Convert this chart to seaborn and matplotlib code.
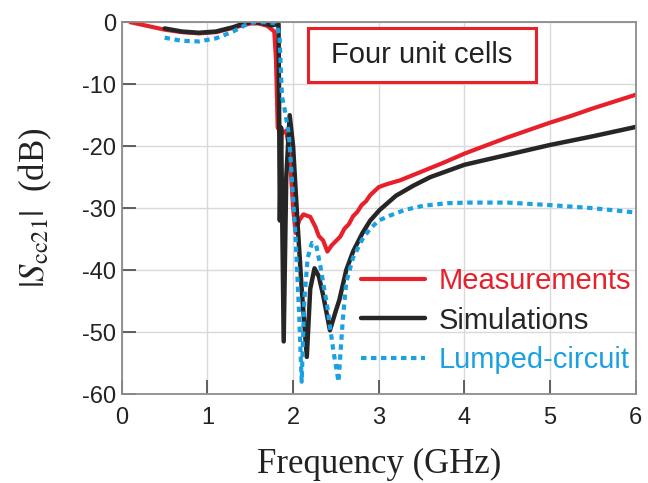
import numpy as np
import pandas as pd
import matplotlib
matplotlib.use('Agg')
import matplotlib.pyplot as plt
import matplotlib.patches as mpatches
import seaborn as sns

# |Scc21| of four unit cells
meas_f = [0.1, 0.3, 0.5, 0.7, 0.9, 1.1, 1.3, 1.5, 1.6, 1.7, 1.78, 1.8, 1.82, 1.86, 1.92, 1.96,
          2.0, 2.03, 2.07, 2.12, 2.2, 2.26, 2.3, 2.35, 2.4, 2.45, 2.5, 2.55, 2.6, 2.65, 2.7, 2.75, 2.8, 2.85, 2.9,
          3.0, 3.1, 3.25, 3.5, 3.75, 4.0, 4.25, 4.5, 4.75, 5.0, 5.25, 5.5, 5.75, 6.0]
meas_db = [0.0, -0.6, -1.2, -1.6, -1.8, -1.6, -0.9, -0.2, -0.2, -0.6, -1.5, -6.0, -17.0, -18.0, -17.5, -21.0,
           -30.0, -34.0, -32.0, -31.0, -31.4, -33.0, -34.5, -35.2, -37.0, -36.0, -35.3, -34.6, -33.3, -32.6, -31.3, -30.6, -29.5, -28.9, -27.9,
           -26.6, -26.1, -25.5, -24.1, -22.7, -21.2, -19.9, -18.6, -17.4, -16.2, -15.1, -13.9, -12.8, -11.7]

sim_f = [0.5, 0.7, 0.9, 1.1, 1.3, 1.45, 1.55, 1.65, 1.75, 1.83, 1.845, 1.86, 1.89, 1.92, 1.96,
         2.0, 2.05, 2.1, 2.16, 2.2, 2.25, 2.3, 2.35, 2.43, 2.5, 2.54, 2.62, 2.7, 2.81, 2.9, 3.01,
         3.2, 3.4, 3.6, 4.0, 4.5, 5.0, 5.5, 6.0]
sim_db = [-1.0, -1.5, -1.7, -1.5, -0.8, -0.1, 0.0, -0.2, -0.5, -0.3, -32.0, -17.0, -51.5, -25.0, -15.0,
          -20.0, -32.0, -43.0, -54.0, -43.0, -39.7, -41.0, -44.0, -49.7, -46.5, -44.8, -40.0, -37.0, -34.0, -32.0, -30.3,
          -28.0, -26.4, -25.0, -23.0, -21.4, -19.8, -18.4, -16.9]

lump_f = [0.5, 0.7, 0.9, 1.1, 1.3, 1.45, 1.55, 1.7, 1.8, 1.84, 1.87, 1.9, 1.95, 1.98, 2.03, 2.07, 2.1,
          2.13, 2.17, 2.22, 2.27, 2.32, 2.4, 2.47, 2.53, 2.58, 2.62, 2.7, 2.81, 2.9, 3.0, 3.13, 3.3,
          3.52, 3.8, 4.03, 4.5, 5.0, 5.5, 6.0]
lump_db = [-2.5, -3.0, -3.1, -2.6, -1.5, -0.4, 0.0, 0.0, -0.2, -2.0, -12.0, -14.0, -18.0, -24.0, -35.0, -47.0, -58.0,
           -45.0, -38.0, -35.6, -36.0, -39.5, -46.0, -53.0, -58.0, -48.0, -42.0, -38.0, -35.0, -33.3, -32.0, -31.2, -30.3,
           -29.6, -29.2, -29.1, -29.1, -29.5, -30.0, -30.7]

red = '#e8202a'
black = '#262626'
blue = '#1ba1e2'

sns.set_theme(style='white')
plt.rcParams['font.family'] = ['Liberation Sans', 'DejaVu Sans']
plt.rcParams['mathtext.fontset'] = 'stix'
plt.rcParams['axes.unicode_minus'] = False

fig, ax = plt.subplots(figsize=(6.48, 4.83), dpi=100)
fig.subplots_adjust(left=0.188, right=0.981, top=0.954, bottom=0.184)

sns.lineplot(x=meas_f, y=meas_db, ax=ax, color=red, lw=3.0, label='Measurements', sort=False)
sns.lineplot(x=sim_f, y=sim_db, ax=ax, color=black, lw=3.2, label='Simulations', sort=False)
sns.lineplot(x=lump_f, y=lump_db, ax=ax, color=blue, lw=3.0, label='Lumped-circuit', sort=False,
             linestyle=(0, (1.3, 1.1)))

ax.set_xlim(0, 6)
ax.set_ylim(-60, 0)
ax.set_xticks(range(0, 7))
ax.set_yticks(range(-60, 1, 10))
ax.grid(True, color='#d9d9d9', lw=1.0)
ax.set_axisbelow(True)
for sp in ax.spines.values():
    sp.set_color('#8c8c8c')
    sp.set_linewidth(1.3)
ax.tick_params(direction='in', length=10, width=1.3, color='#555555',
               labelsize=17, labelcolor='#222222', left=True, bottom=True)
ax.tick_params(axis='x', pad=9)
ax.tick_params(axis='y', pad=4)

ax.set_xlabel('Frequency (GHz)', family='Liberation Serif', fontsize=25, color='#222222', labelpad=14)
ax.set_ylabel(r'$|S_{\mathrm{cc21}}|$  (dB)', family='Liberation Serif', fontsize=25,
              color='#222222', labelpad=20)

# annotation box
ax.add_patch(mpatches.Rectangle((2.17, -9.6), 2.67, 8.7, fc='white', ec=red, lw=2.2, zorder=4))
ax.text(3.5, -5.3, 'Four unit cells', fontsize=21, color='#222222', ha='center', va='center', zorder=5)

leg = ax.legend(loc='lower left', bbox_to_anchor=(0.415, -0.017), frameon=False, fontsize=21,
                handlelength=2.2, handletextpad=0.45, labelspacing=0.4)
for txt, c in zip(leg.get_texts(), [red, black, blue]):
    txt.set_color(c)

fig.savefig('out.png', dpi=100)
